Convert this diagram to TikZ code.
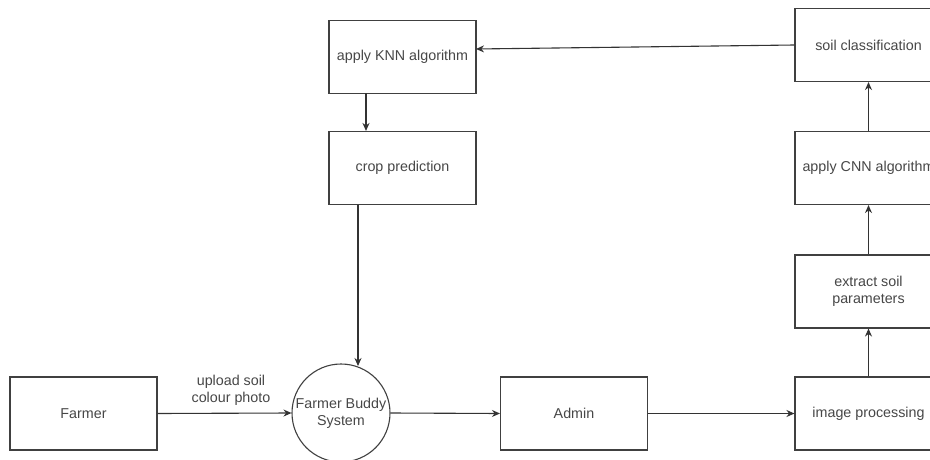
\documentclass[tikz,border=0pt]{standalone}
\usepackage{fontspec}
\setmainfont{Liberation Sans}
\usetikzlibrary{arrows.meta}
\begin{document}
\begin{tikzpicture}[x=1pt,y=1pt,
  every node/.style={font=\fontsize{14.3}{17}\selectfont, text=black!72},
  box/.style={draw=black!75, line width=1.1pt, minimum width=147pt, minimum height=73pt, inner sep=0pt, align=center},
  sysc/.style={draw=black!75, line width=1.1pt, circle, minimum size=98pt, inner sep=0pt, align=center},
  conn/.style={draw=black!80, line width=1.1pt, -{Stealth[length=8pt,width=7pt]}},
  lbl/.style={align=center, inner sep=0pt}]
\useasboundingbox (0,0) rectangle (930,-460);
\clip (0,0) rectangle (930,-460);
\fill[white] (0,0) rectangle (930,-460);
% nodes
\node[box] (farmer) at (83.5,-413.5) {Farmer};
\node[sysc] (sys) at (341,-413) {Farmer Buddy\\System};
\node[box] (admin) at (574,-413.5) {Admin};
\node[box] (imgp) at (868.5,-413.5) {image processing};
\node[box] (extract) at (868.5,-291.5) {extract soil\\parameters};
\node[box] (cnn) at (868.5,-168) {apply CNN algorithm};
\node[box] (soil) at (868.5,-45) {soil classification};
\node[box] (knn) at (402.5,-57) {apply KNN algorithm};
\node[box] (crop) at (402.5,-168) {crop prediction};
\node[lbl] (up) at (231,-390) {upload soil\\colour photo};
% helper coordinates
\coordinate (kin) at (476,-49);
\coordinate (kout) at (366,-93.5);
\coordinate (cout) at (358,-204.5);
\coordinate (sin) at (358,-366);
% connectors
\draw[conn] (farmer.east) -- (sys.west);
\draw[conn] (sys.east) -- (admin.west);
\draw[conn] (admin.east) -- (imgp.west);
\draw[conn] (imgp.north) -- (extract.south);
\draw[conn] (extract.north) -- (cnn.south);
\draw[conn] (cnn.north) -- (soil.south);
\draw[conn] (soil.west) -- (kin);
\draw[conn] (kout) -- (kout |- crop.north);
\draw[conn] (cout) -- (sin);
\end{tikzpicture}
\end{document}
